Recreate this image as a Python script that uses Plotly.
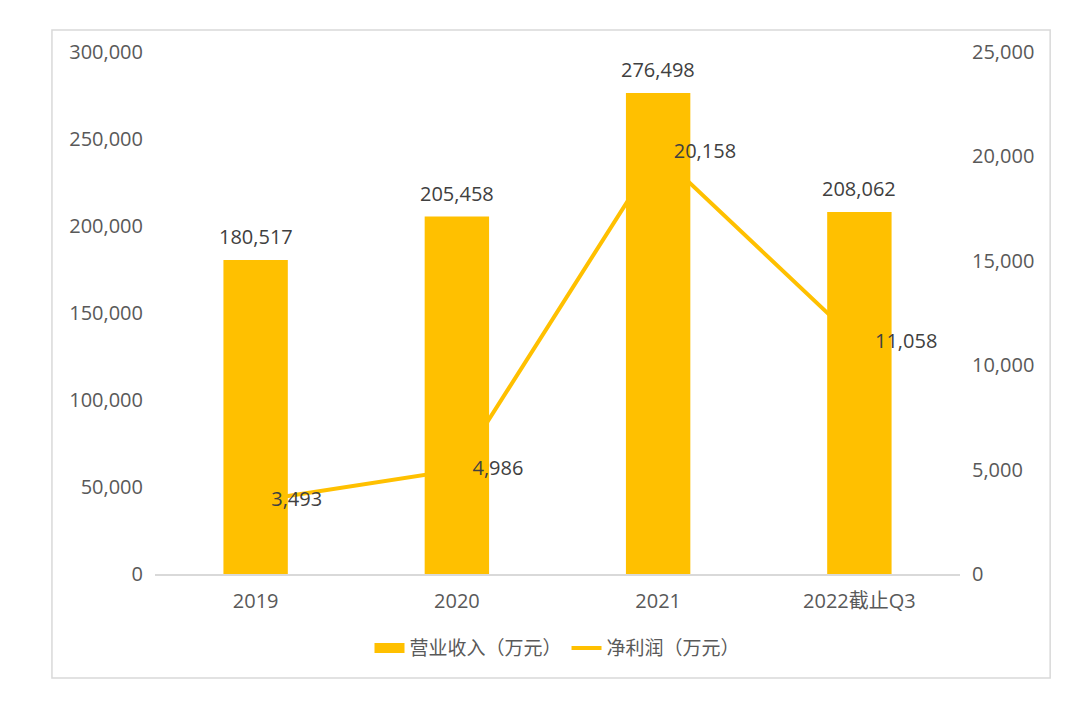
import plotly.graph_objects as go

# 数据
categories = ["2019", "2020", "2021", "2022截止Q3"]
revenue = [180517, 205458, 276498, 208062]      # 营业收入（万元）
net_profit = [3493, 4986, 20158, 11058]         # 净利润（万元）

gold = "#FFC000"
text_color = "#595959"
label_color = "#404040"
font_family = "Open Sans, Noto Sans CJK SC, sans-serif"

fig = go.Figure()

fig.add_trace(go.Bar(
    x=categories, y=revenue,
    name="营业收入（万元）",
    marker=dict(color=gold, line=dict(width=0)),
    width=0.32,
    showlegend=False,
))

fig.add_trace(go.Scatter(
    x=categories, y=net_profit,
    name="净利润（万元）",
    mode="lines+text",
    line=dict(color=gold, width=4),
    text=["   " + f"{v:,}" for v in net_profit],
    textposition="middle right",
    textfont=dict(size=20, color=label_color),
    yaxis="y2",
    cliponaxis=False,
    showlegend=False,
))

# 图例（柱形用粗线代替矩形色块）
fig.add_trace(go.Scatter(
    x=[categories[0]], y=[None], mode="lines",
    name="营业收入（万元）",
    line=dict(color=gold, width=14),
))
fig.add_trace(go.Scatter(
    x=[categories[0]], y=[None], mode="lines",
    name="净利润（万元）",
    line=dict(color=gold, width=4),
))

# 柱顶数据标签（类别轴上按序号定位）
annotations = [
    dict(x=i, y=v, xref="x", yref="y", text=f"{v:,}", showarrow=False,
         yanchor="middle", yshift=23, font=dict(size=20, color=label_color))
    for i, v in enumerate(revenue)
]

fig.update_layout(
    width=1080, height=718,
    paper_bgcolor="white",
    plot_bgcolor="white",
    font=dict(family=font_family, size=20, color=text_color),
    margin=dict(l=147, r=128, t=44, b=152),
    showlegend=True,
    legend=dict(
        orientation="h",
        x=0.5, xanchor="center",
        y=-0.142, yanchor="middle",
        font=dict(size=19, color=text_color),
        traceorder="normal",
    ),
    xaxis=dict(
        type="category",
        categoryorder="array", categoryarray=categories,
        range=[-0.5, len(categories) - 0.5],
        showgrid=False,
        showline=True, linecolor="#D9D9D9", linewidth=1.5,
        ticks="",
        ticklabelstandoff=8,
        tickfont=dict(size=20, color=text_color),
    ),
    yaxis=dict(
        range=[0, 300000], dtick=50000,
        tickformat=",",
        showgrid=False, zeroline=False, showline=False,
        ticks="",
        ticklabelstandoff=11,
        tickfont=dict(size=20, color=text_color),
    ),
    yaxis2=dict(
        overlaying="y", side="right",
        range=[0, 25000], dtick=5000,
        tickformat=",",
        showgrid=False, zeroline=False, showline=False,
        ticklabelstandoff=11,
        tickfont=dict(size=20, color=text_color),
    ),
    annotations=annotations,
    shapes=[dict(
        type="rect", xref="paper", yref="paper",
        x0=-0.128, x1=1.112, y0=-0.199, y1=1.042,
        line=dict(color="#D9D9D9", width=1.5),
        fillcolor="rgba(0,0,0,0)",
        layer="below",
    )],
)

fig.write_html("out.html")
